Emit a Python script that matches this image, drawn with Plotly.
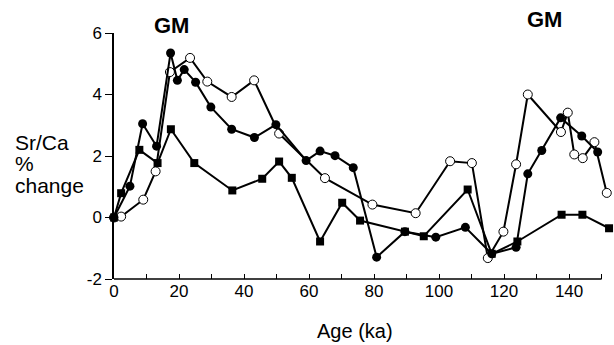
import plotly.graph_objects as go

# Filled circles series
fc_age = [0, 4.9, 8.8, 13.1, 17.4, 19.5, 21.6, 25.1, 29.8, 36.2, 43.2, 49.8, 59.1, 63.4, 68.0, 73.6,
          80.8, 89.5, 99.0, 108.1, 116.2, 123.7, 127.3, 131.6, 137.4, 143.9, 148.8]
fc_val = [0, 1.02, 3.05, 2.32, 5.35, 4.46, 4.81, 4.40, 3.59, 2.87, 2.60, 3.02, 1.85, 2.16, 2.01, 1.62,
          -1.29, -0.46, -0.64, -0.32, -1.18, -0.97, 1.42, 2.18, 3.24, 2.65, 2.13]

# Open circles series
oc_age = [0, 2.2, 9.0, 12.8, 17.2, 23.4, 28.7, 36.2, 43.1, 50.8, 64.9, 79.5, 92.8, 103.4, 110.1,
          115.0, 119.8, 123.7, 127.3, 137.5, 139.6, 141.6, 144.2, 147.8, 151.6]
oc_val = [0, 0.03, 0.58, 1.50, 4.73, 5.19, 4.42, 3.92, 4.46, 2.73, 1.28, 0.42, 0.14, 1.83, 1.77,
          -1.32, -0.46, 1.73, 4.00, 2.78, 3.41, 2.05, 1.93, 2.45, 0.80]

# Filled squares series
sq_age = [0, 2.2, 7.8, 13.4, 17.5, 24.7, 36.4, 45.6, 50.8, 54.7, 63.4, 70.2, 75.7, 89.5, 95.3,
          108.8, 116.2, 124.1, 137.7, 144.1, 152.3]
sq_val = [0, 0.79, 2.20, 1.77, 2.87, 1.77, 0.88, 1.26, 1.82, 1.29, -0.78, 0.48, -0.10, -0.46, -0.61,
          0.91, -1.18, -0.78, 0.09, 0.09, -0.35]

x_ticks = [0, 20, 40, 60, 80, 100, 120, 140]
y_ticks = [-2, 0, 2, 4, 6]
x_axis_end = 150

FONT = "Liberation Sans, Arial, Helvetica, sans-serif"

fig = go.Figure()
fig.add_trace(go.Scatter(x=sq_age, y=sq_val, mode="lines+markers", cliponaxis=False,
                         line=dict(color="black", width=2),
                         marker=dict(symbol="square", size=8, color="black")))
fig.add_trace(go.Scatter(x=oc_age, y=oc_val, mode="lines+markers", cliponaxis=False,
                         line=dict(color="black", width=2),
                         marker=dict(symbol="circle", size=9, color="white",
                                     line=dict(color="black", width=1))))
fig.add_trace(go.Scatter(x=fc_age, y=fc_val, mode="lines+markers", cliponaxis=False,
                         line=dict(color="black", width=2),
                         marker=dict(symbol="circle", size=9, color="black")))

fig.update_layout(
    width=614, height=345,
    margin=dict(l=114, r=3, t=33, b=66),
    paper_bgcolor="white", plot_bgcolor="white",
    showlegend=False,
    font=dict(family=FONT, color="black", size=17),
    xaxis=dict(range=[0, 152.9], tickvals=x_ticks, ticktext=[str(v) for v in x_ticks],
               showgrid=False, zeroline=False, showline=False,
               ticks="inside", ticklen=5, tickcolor="black", tickwidth=1.2,
               minor=dict(tickvals=[10, 30, 50, 70, 90, 110, 130, 150], ticks="inside",
                          ticklen=5, tickcolor="black", tickwidth=1.2),
               tickfont=dict(size=17)),
    yaxis=dict(range=[-2, 6], tickvals=y_ticks, ticktext=[str(v) for v in y_ticks],
               showgrid=False, zeroline=False, showline=True, linecolor="black", linewidth=1.5,
               ticks="outside", ticklen=7, tickcolor="black", tickwidth=1.2,
               tickfont=dict(size=17)),
)

# x axis line ending at 150 ka
fig.add_shape(type="line", xref="x", yref="paper", x0=0, x1=x_axis_end, y0=0, y1=0,
              line=dict(color="black", width=1.5), layer="above")

annots = [
    dict(text="<b>GM</b>", x=17.7, y=1.0325, xref="x", yref="paper", font=dict(size=22)),
    dict(text="<b>GM</b>", x=132.3, y=1.0557, xref="x", yref="paper", font=dict(size=22)),
    dict(text="Age (ka)", x=74, y=-0.212, xref="x", yref="paper", font=dict(size=20)),
    dict(text="Sr/Ca", x=-0.203, y=2.44, xref="paper", yref="y", xanchor="left", font=dict(size=21)),
    dict(text="%", x=-0.203, y=1.76, xref="paper", yref="y", xanchor="left", font=dict(size=21)),
    dict(text="change", x=-0.203, y=1.04, xref="paper", yref="y", xanchor="left", font=dict(size=21)),
]
for a in annots:
    a.setdefault("xanchor", "center")
    a["yanchor"] = "middle"
    a["showarrow"] = False
    fig.add_annotation(**a)

fig.write_html("out.html")
